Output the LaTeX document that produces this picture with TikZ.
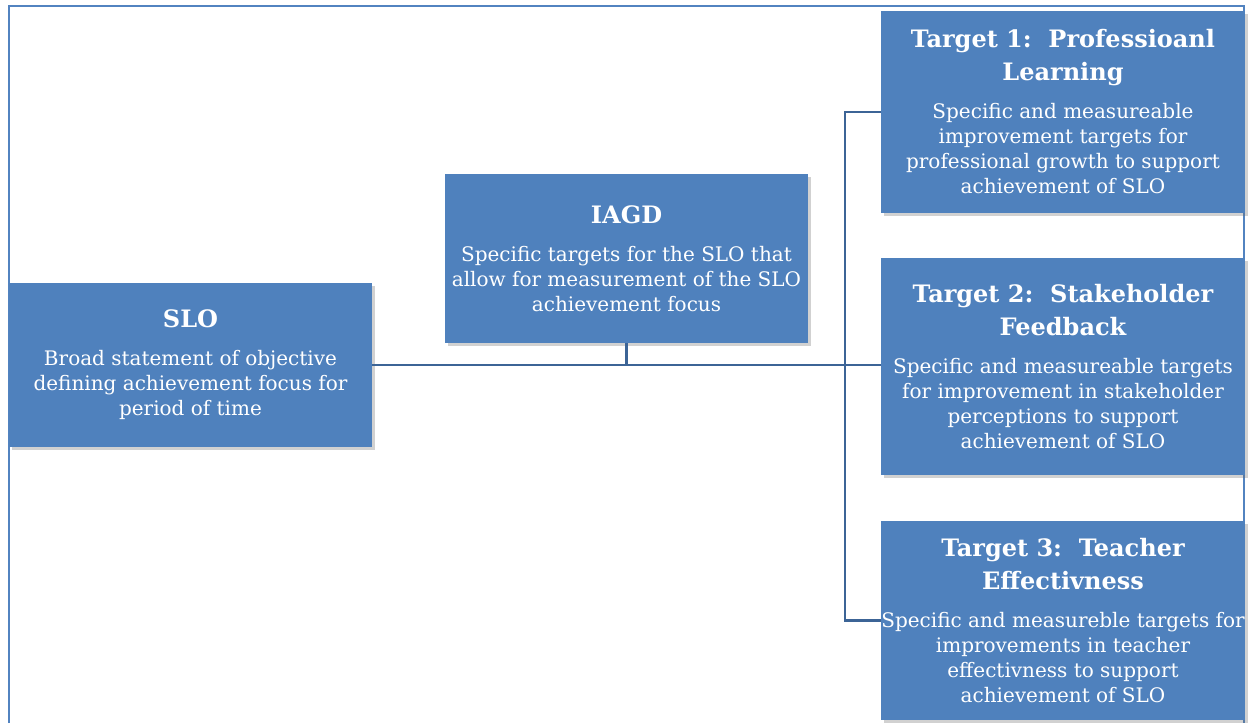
\documentclass[tikz,border=0pt]{standalone}
\usepackage{fontspec}
\setmainfont{DejaVu Serif}
\usetikzlibrary{shadows}
\definecolor{boxblue}{HTML}{4F81BD}
\definecolor{linkblue}{HTML}{3C6496}
\definecolor{frameblue}{HTML}{5283C0}

\tikzset{
  blockbox/.style={fill=boxblue, text=white, inner sep=0pt, align=center,
    font=\fontsize{20}{25}\selectfont,
    drop shadow={shadow xshift=3pt, shadow yshift=-3pt, opacity=0.3, fill=black!60}},
  link/.style={draw=linkblue, line width=2.2pt},
}
\newcommand{\boxtitle}{\bfseries\fontsize{24}{33}\selectfont}

\begin{document}
\begin{tikzpicture}[x=1pt,y=-1pt]
\useasboundingbox (0,0) rectangle (1250,723);
\draw[frameblue, line width=2.4pt] (9,723) -- (9,6) -- (1244,6) -- (1244,723);

\node[blockbox, minimum width=363pt, minimum height=164pt] (slo) at (190.5,365)
  {\boxtitle SLO\\[13pt] Broad statement of objective\\ defining achievement focus for\\ period of time};
\node[blockbox, minimum width=363pt, minimum height=169pt] (iagd) at (626.5,258.5)
  {\boxtitle IAGD\\[13pt] Specific targets for the SLO that\\ allow for measurement of the SLO\\ achievement focus};
\node[blockbox, minimum width=364pt, minimum height=202pt] (t1) at (1063,112)
  {\boxtitle Target 1:\ \ Professioanl\\[8pt] \boxtitle Learning\\[13pt] Specific and measureable\\ improvement targets for\\ professional growth to support\\ achievement of SLO};
\node[blockbox, minimum width=364pt, minimum height=217pt] (t2) at (1063,366.5)
  {\boxtitle Target 2:\ \ Stakeholder\\[8pt] \boxtitle Feedback\\[13pt] Specific and measureable targets\\ for improvement in stakeholder\\ perceptions to support\\ achievement of SLO};
\node[blockbox, minimum width=364pt, minimum height=199pt] (t3) at (1063,620.5)
  {\boxtitle Target 3:\ \ Teacher\\[8pt] \boxtitle Effectivness\\[13pt] Specific and measureble targets for\\ improvements in teacher\\ effectivness to support\\ achievement of SLO};

\coordinate (trunk) at (845,365);

\draw[link] (slo.east) -- (slo.east -| t2.west);
\draw[link] (iagd.south) -- (iagd.south |- slo.east);
\draw[link] (t1.west) -| (trunk) |- (t3.west);
\end{tikzpicture}
\end{document}
